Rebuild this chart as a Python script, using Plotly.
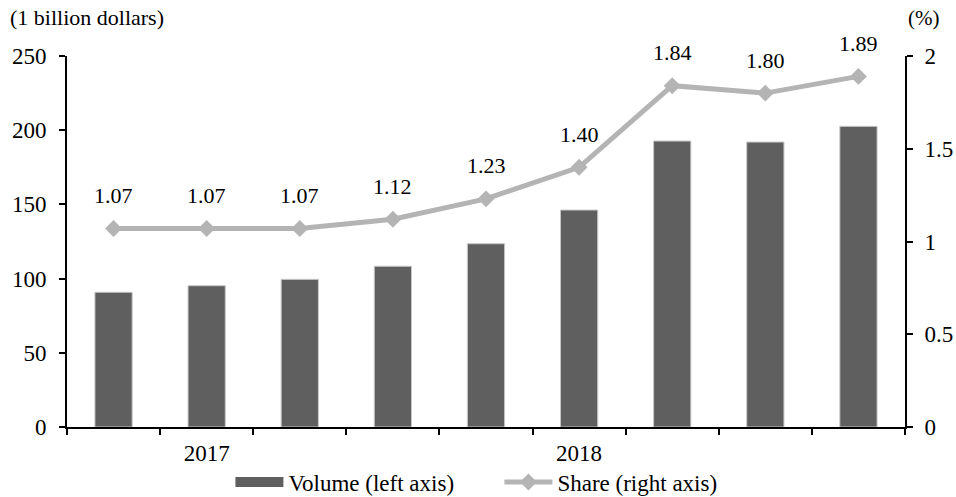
import plotly.graph_objects as go

# Quarterly series
quarters = ["2017Q1", "2017Q2", "2017Q3", "2017Q4",
            "2018Q1", "2018Q2", "2018Q3", "2018Q4", "2019Q1"]
year_labels = ["", "2017", "", "", "", "2018", "", "", ""]
volume = [90.8, 95.2, 99.5, 108.3, 123.5, 146.2, 192.7, 192.0, 202.6]   # 1 billion dollars
share = [1.07, 1.07, 1.07, 1.12, 1.23, 1.40, 1.84, 1.80, 1.89]          # percent

FONT = "Liberation Serif, Times New Roman, serif"
BAR_COLOR = "#5f5f5f"
LINE_COLOR = "#b4b4b4"

fig = go.Figure()

fig.add_trace(go.Bar(
    x=quarters, y=volume, name="Volume (left axis)",
    marker=dict(color=BAR_COLOR, line=dict(color="#c8c8c8", width=1)),
    yaxis="y", showlegend=False,
))

# wide swatch for the volume legend entry
fig.add_trace(go.Scatter(
    x=[None], y=[None], name="Volume (left axis)", mode="lines",
    line=dict(color=BAR_COLOR, width=16), yaxis="y",
))

fig.add_trace(go.Scatter(
    x=quarters, y=share, name="Share (right axis)",
    mode="lines+markers",
    line=dict(color=LINE_COLOR, width=5),
    marker=dict(symbol="diamond", size=13, color=LINE_COLOR),
    yaxis="y2",
))

# value labels above the share line
for q, s in zip(quarters, share):
    fig.add_annotation(
        x=q, y=s, yref="y2", xref="x",
        text=f"{s:.2f}", showarrow=False, yshift=33,
        font=dict(family=FONT, size=22, color="#000"),
    )

# axis unit captions
fig.add_annotation(
    x=0, y=1, xref="paper", yref="paper", xshift=-59, yshift=24,
    xanchor="left", yanchor="bottom", text="(1 billion dollars)",
    showarrow=False, font=dict(family=FONT, size=22, color="#000"),
)
fig.add_annotation(
    x=1, y=1, xref="paper", yref="paper", xshift=1, yshift=24,
    xanchor="left", yanchor="bottom", text="(%)",
    showarrow=False, font=dict(family=FONT, size=21, color="#000"),
)

axis_common = dict(
    showgrid=False, zeroline=False, showline=True,
    linecolor="#000", linewidth=2,
    ticks="outside", ticklen=6, tickwidth=2, tickcolor="#000",
    tickfont=dict(family=FONT, size=23, color="#000"),
    automargin=False,
)

fig.update_layout(
    width=956, height=497,
    margin=dict(l=67, r=51, t=56, b=70),
    paper_bgcolor="white", plot_bgcolor="white",
    bargap=0.6,
    showlegend=True,
    legend=dict(
        orientation="h", x=0.195, xanchor="left",
        yref="container", y=0.03, yanchor="middle",
        font=dict(family=FONT, size=23, color="#000"),
        itemwidth=48, tracegroupgap=0,
        entrywidth=206,
    ),
    xaxis=dict(
        **axis_common,
        type="category",
        tickmode="array", tickvals=quarters, ticktext=year_labels,
        tickson="boundaries",
        range=[-0.5, len(quarters) - 0.5],
        ticklabelstandoff=4,
    ),
    yaxis=dict(
        **axis_common,
        range=[0, 250], dtick=50,
        ticklabelstandoff=8,
    ),
    yaxis2=dict(
        **axis_common,
        overlaying="y", side="right",
        range=[0, 2], dtick=0.5,
        ticklabelstandoff=7,
    ),
)

fig.write_html("out.html")
